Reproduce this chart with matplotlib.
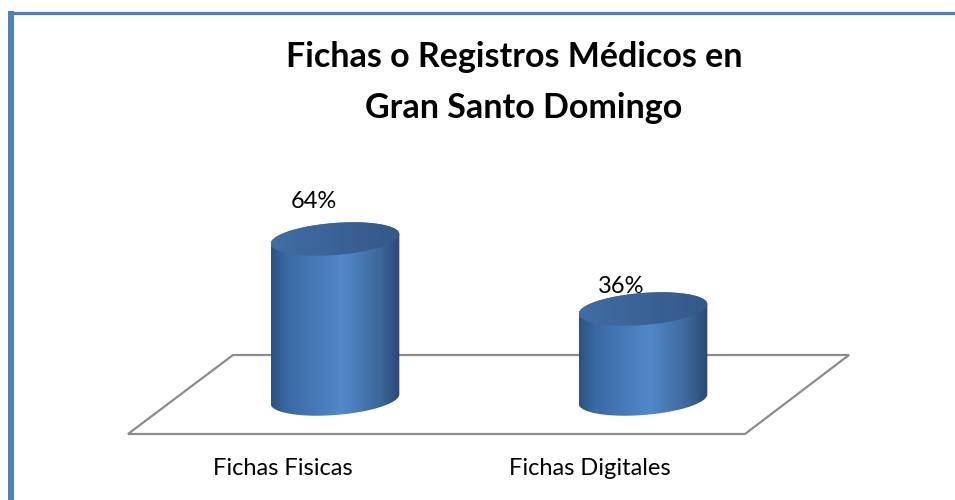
import numpy as np
import matplotlib
matplotlib.use("Agg")
import matplotlib.pyplot as plt
from matplotlib.patches import Polygon
from matplotlib.colors import LinearSegmentedColormap

# ---------------------------------------------------------------------------
# Data
# ---------------------------------------------------------------------------
categories = ["Fichas Fisicas", "Fichas Digitales"]
values = [64, 36]                       # percent
value_labels = ["64%", "36%"]
title_lines = ["Fichas o Registros Médicos en", "Gran Santo Domingo"]

# ---------------------------------------------------------------------------
# Layout / style (pixel based, figure is 955 x 500)
# ---------------------------------------------------------------------------
W, H = 955, 500
X0_PX, X_STEP_PX = 335, 308      # centre of first cylinder, spacing
BASE_PX, Y_SCALE = 399, 2.5      # baseline row, px per percent

BLUE_BORDER = "#4F81BD"
FLOOR_COL = "#8C8C8C"
FONT = "Lato"

body_cmap = LinearSegmentedColormap.from_list(
    "body", [(0.0, "#2C5284"), (0.12, "#3A69A3"), (0.55, "#5189CA"),
             (0.85, "#3D6699"), (1.0, "#2B4874")])
top_cmap = LinearSegmentedColormap.from_list(
    "top", [(0.0, "#416DA3"), (1.0, "#355889")])

fig = plt.figure(figsize=(W / 100, H / 100), dpi=100)
ax = fig.add_axes([0, 0, 1, 1])
ax.set_axis_off()

xlim = ((0 - X0_PX) / X_STEP_PX, (W - X0_PX) / X_STEP_PX)
ylim = ((BASE_PX - H) / Y_SCALE, BASE_PX / Y_SCALE)


def px_to_data(px, py):
    return (px - X0_PX) / X_STEP_PX, (BASE_PX - py) / Y_SCALE


def cross(o, a, b):
    return (a[0] - o[0]) * (b[1] - o[1]) - (a[1] - o[1]) * (b[0] - o[0])


def convex_hull(points):
    # monotone chain
    ps = sorted(map(tuple, points))
    lower, upper = [], []
    for q in ps:
        while len(lower) >= 2 and cross(lower[-2], lower[-1], q) <= 0:
            lower.pop()
        lower.append(q)
    for q in reversed(ps):
        while len(upper) >= 2 and cross(upper[-2], upper[-1], q) <= 0:
            upper.pop()
        upper.append(q)
    return np.array(lower[:-1] + upper[:-1])


# floor (parallelogram behind the cylinders)
floor_px = [(128, 434), (745, 434), (849, 355), (233, 355)]
floor = Polygon([px_to_data(*p) for p in floor_px], closed=True,
                facecolor="white", edgecolor=FLOOR_COL, lw=1.6, zorder=1)
ax.add_patch(floor)

# cylinders: tilted ellipse built in pixel units, then converted to data
A_PX, B_PX, THETA = 64.5, 16.0, np.deg2rad(4.5)
t = np.linspace(0, 2 * np.pi, 200)
ex_px = A_PX * np.cos(t) * np.cos(THETA) - B_PX * np.sin(t) * np.sin(THETA)
ey_px = A_PX * np.cos(t) * np.sin(THETA) + B_PX * np.sin(t) * np.cos(THETA)
ex = ex_px / X_STEP_PX
ey = ey_px / Y_SCALE
scale = np.array([X_STEP_PX, Y_SCALE])
grad = np.linspace(0, 1, 256).reshape(1, -1)

for i, v in enumerate(values):
    cx = i
    pts = np.vstack([np.column_stack([cx + ex, ey]),
                     np.column_stack([cx + ex, v + ey])])
    hull = convex_hull(pts * scale) / scale

    body = Polygon(hull, closed=True, facecolor="none", edgecolor="none",
                   zorder=3)
    ax.add_patch(body)
    x_lo, x_hi = cx + ex.min(), cx + ex.max()
    im = ax.imshow(grad, cmap=body_cmap, aspect="auto", zorder=3,
                   extent=[x_lo, x_hi, ey.min() - 1, v + ey.max() + 1],
                   interpolation="bilinear")
    im.set_clip_path(body)

    top = Polygon(np.column_stack([cx + ex, v + ey]), closed=True,
                  facecolor="none", edgecolor="none", zorder=4)
    ax.add_patch(top)
    im2 = ax.imshow(grad, cmap=top_cmap, aspect="auto", zorder=4,
                    extent=[x_lo, x_hi, v + ey.min(), v + ey.max()],
                    interpolation="bilinear")
    im2.set_clip_path(top)

# value labels
label_dy = [12.2, 6.4]
for i, (v, lab) in enumerate(zip(values, value_labels)):
    ax.text(i - 0.07, v + label_dy[i], lab, ha="center", va="baseline",
            fontsize=17, family=FONT, color="black", zorder=6)

# category labels
cat_x_px = [282.5, 590]
for cat, lx in zip(categories, cat_x_px):
    fig.text(lx / W, 1 - 475 / H, cat, ha="center", va="baseline",
             fontsize=17, family=FONT)

ax.set_xlim(*xlim)
ax.set_ylim(*ylim)

# title
fig.text(514 / W, 1 - 67 / H, title_lines[0], ha="center", va="baseline",
         fontsize=24.5, fontweight="bold", family=FONT)
fig.text(524 / W, 1 - 118 / H, title_lines[1], ha="center", va="baseline",
         fontsize=24.5, fontweight="bold", family=FONT)

# chart border (top and left edges)
fig.add_artist(plt.Line2D([8 / W, 1], [1 - 12.5 / H] * 2,
                          transform=fig.transFigure, color=BLUE_BORDER,
                          lw=2.3, solid_capstyle="butt"))
fig.add_artist(plt.Line2D([11 / W] * 2, [0, 1 - 11 / H],
                          transform=fig.transFigure, color=BLUE_BORDER,
                          lw=4.3, solid_capstyle="butt"))

fig.savefig("out.png", dpi=100)
